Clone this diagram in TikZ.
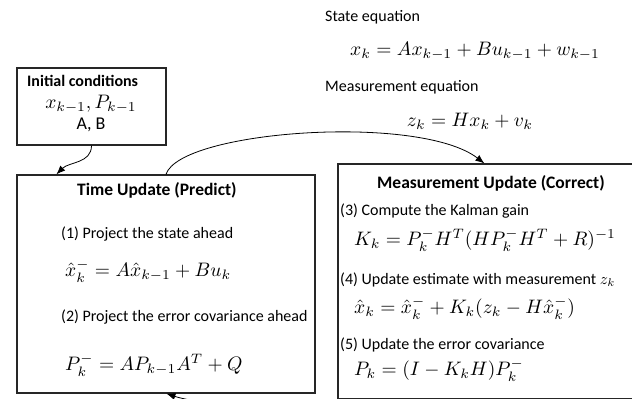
\documentclass[tikz,border=0pt]{standalone}
\usepackage{amsmath}
\usepackage{graphicx}
\usepackage[no-math]{fontspec}
\setmainfont{Carlito}
\usetikzlibrary{arrows.meta, positioning, calc}

\newcommand{\eqn}[2][1.95]{\scalebox{#1}{\normalsize$#2$}}

\begin{document}
\begin{tikzpicture}[
    x=1pt, y=1pt,
    panel/.style={draw=black!85, line width=1.2pt, rectangle, inner sep=0pt, minimum width=#1},
    txt/.style={font=\fontsize{16}{19}\selectfont, inner sep=0pt, anchor=west},
    title/.style={font=\fontsize{#1}{20}\selectfont\bfseries, inner sep=0pt, anchor=west},
    formula/.style={inner sep=0pt},
    arrow/.style={-{Latex[length=9pt, width=7pt]}, line width=0.8pt},
    >=Latex
]
\useasboundingbox (0,0) rectangle (632,399);

% Model equations
\node[txt] (statelbl) at (325,382) {State equation};
\node[formula] (stateeq) at (475,348) {\eqn{x_k = Ax_{k-1} + Bu_{k-1} + w_{k-1}}};
\node[txt] (measlbl) at (325,312) {Measurement equation};
\node[formula] (measeq) at (470,278) {\eqn{z_k = Hx_k + v_k}};

% Initial conditions
\node[panel=149pt, minimum height=77pt] (init) at (91.5,292.5) {};
\node[title=16] (inittitle) at (27,318) {Initial conditions};
\node[formula] (initeq) at (91,295) {\eqn{x_{k-1}, P_{k-1}}};
\node[txt, anchor=center, font=\fontsize{18}{20}\selectfont] (initab) at (91,274) {A, B};

% Time update
\node[panel=298pt, minimum height=218pt] (timeupd) at (166,115) {};
\node[title=17.5] (timetitle) at (77,209) {Time Update (Predict)};
\node[txt] (step1) at (61,165) {(1) Project the state ahead};
\node[formula, anchor=west] (eq1) at (65,128) {\eqn{\hat{x}_k^- = A\hat{x}_{k-1} + Bu_k}};
\node[txt] (step2) at (61,82) {(2) Project the error covariance ahead};
\node[formula, anchor=west] (eq2) at (65,34) {\eqn{P_k^- = AP_{k-1}A^T + Q}};

% Measurement update
\node[panel=307pt, minimum height=234.5pt] (measupd) at (491.5,117.75) {};
\node[title=17.5] (meastitle) at (377,216) {Measurement Update (Correct)};
\node[txt] (step3) at (340,188) {(3) Compute the Kalman gain};
\node[formula, anchor=west] (eq3) at (354,159) {\eqn{K_k = P_k^- H^T (H P_k^- H^T + R)^{-1}}};
\node[txt] (step4) at (340,119) {(4) Update estimate with measurement \eqn[1.6]{z_k}};
\node[formula, anchor=west] (eq4) at (354,91) {\eqn{\hat{x}_k = \hat{x}_k^- + K_k (z_k - H\hat{x}_k^-)}};
\node[txt] (step5) at (340,54) {(5) Update the error covariance};
\node[formula, anchor=west] (eq5) at (354,29) {\eqn{P_k = (I - K_k H) P_k^-}};

% Connectors
\draw[arrow] (init.south) to[out=-90, in=45] ($(timeupd.north west)+(40,0)$);
\draw[arrow] (timeupd.north) .. controls +(14,44) and +(-65,50) .. ($(measupd.north west)+(147,0)$);
\draw[arrow] (measupd.south) .. controls +(0,-40) and +(45,-15) .. ($(timeupd.south west)+(150,0)$);

\end{tikzpicture}
\end{document}
